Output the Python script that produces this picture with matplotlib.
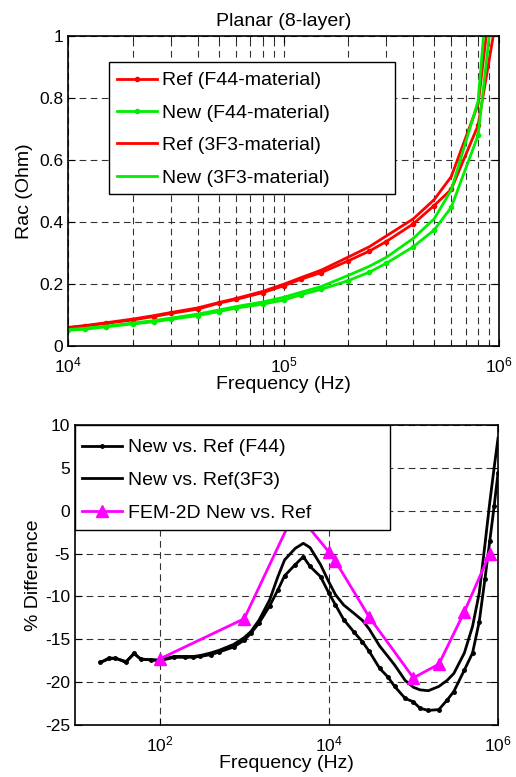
import matplotlib
matplotlib.use("Agg")
import matplotlib.pyplot as plt
from matplotlib.patches import Rectangle
from matplotlib.ticker import FixedLocator, NullLocator, FixedFormatter

plt.rcParams['font.family'] = ['Liberation Sans', 'DejaVu Sans']
plt.rcParams['mathtext.default'] = 'regular'
plt.rcParams['axes.unicode_minus'] = False

# top panel: Rac vs frequency
f_top = [1e4, 1.2e4, 1.5e4, 2e4, 2.5e4, 3e4, 4e4, 5e4, 6e4, 8e4, 1e5, 1.2e5, 1.5e5,
         2e5, 2.5e5, 3e5, 4e5, 5e5, 6e5, 8e5, 1e6]
ref_f44 = [0.059, 0.0645, 0.073, 0.084, 0.095, 0.105, 0.119, 0.138, 0.150, 0.172, 0.194,
           0.215, 0.237, 0.275, 0.306, 0.337, 0.394, 0.453, 0.505, 0.712, 1.11]
new_f44 = [0.051, 0.054, 0.062, 0.071, 0.078, 0.086, 0.098, 0.111, 0.122, 0.135, 0.148,
           0.165, 0.183, 0.211, 0.238, 0.267, 0.320, 0.374, 0.447, 0.68, 1.28]
ref_3f3 = [0.060, 0.066, 0.075, 0.087, 0.098, 0.108, 0.123, 0.140, 0.153, 0.176, 0.199,
           0.220, 0.245, 0.287, 0.320, 0.355, 0.410, 0.472, 0.546, 0.78, 1.35]
new_3f3 = [0.053, 0.057, 0.064, 0.074, 0.082, 0.090, 0.103, 0.116, 0.127, 0.142, 0.157,
           0.173, 0.192, 0.228, 0.257, 0.286, 0.347, 0.41, 0.503, 0.79, 1.6]

# bottom panel: % difference
f_diff = [20, 25, 30, 40, 50, 60, 80, 100, 150, 200, 250, 300, 400, 500, 750, 1000,
          1200, 1500, 2000, 2500, 3000, 4000, 5000, 6000, 8000,
          1e4, 1.2e4, 1.5e4, 2e4, 2.5e4, 3e4, 4e4, 5e4, 6e4, 8e4,
          1e5, 1.2e5, 1.5e5, 2e5, 2.5e5, 3e5, 4e5, 5e5, 6e5, 7e5, 8e5, 9e5, 1e6]
diff_f44 = [-17.7, -17.2, -17.2, -17.7, -16.6, -17.35, -17.4, -17.5,
            -17.1, -17.1, -17.1, -17.0, -16.8, -16.5, -15.9, -15.1,
            -14.3, -13.1, -11.1, -9.25, -7.6, -6.3, -5.36, -6.5, -7.7,
            -9.6, -11.0, -12.7, -14.2, -15.3, -16.4, -18.4, -19.4, -20.5, -21.9,
            -22.3, -23.05, -23.3, -23.2, -22.1, -21.1, -18.6, -16.6, -12.95, -8.0, -3.5, 0.5, 4.4]
diff_3f3 = [-17.7, -17.3, -17.2, -17.6, -16.7, -17.3, -17.4, -17.4,
            -17.0, -17.0, -17.0, -16.9, -16.6, -16.3, -15.6, -14.8,
            -14.1, -12.75, -10.4, -7.7, -5.75, -4.4, -3.8, -4.3, -6.3,
            -8.3, -9.8, -11.0, -12.0, -12.8, -13.8, -15.8, -17.0, -18.0, -19.8,
            -20.6, -20.9, -21.0, -20.5, -19.8, -19.0, -16.6, -13.5, -9.6, -4.0, 1.0, 5.0, 8.45]
f_fem = [100, 1000, 4000, 1e4, 1.2e4, 3e4, 1e5, 2e5, 4e5, 8e5]
diff_fem = [-17.3, -12.6, 0.0, -4.8, -5.9, -12.4, -19.5, -17.9, -11.8, -5.0]

grid_kw = dict(color='0.2', linestyle=(0, (6, 4)), linewidth=0.8)
green = '#00ee00'

fig = plt.figure(figsize=(5.16, 7.77), dpi=100)

'''top axes'''
ax1 = fig.add_axes([68/516, 1-346/777, 431/516, 310/777])
ax1.plot(f_top, ref_f44, color='red', lw=2, marker='.', ms=6, label='Ref (F44-material)')
ax1.plot(f_top, new_f44, color=green, lw=2, marker='.', ms=6, label='New (F44-material)')
ax1.plot(f_top, ref_3f3, color='red', lw=2, label='Ref (3F3-material)')
ax1.plot(f_top, new_3f3, color=green, lw=2, label='New (3F3-material)')
ax1.set_xscale('log')
ax1.set_xlim(1e4, 1e6)
ax1.set_ylim(0, 1)
ax1.set_yticks([0, 0.2, 0.4, 0.6, 0.8, 1])
ax1.set_yticklabels(['0', '0.2', '0.4', '0.6', '0.8', '1'])
ax1.grid(True, which='both', axis='x', **grid_kw)
ax1.grid(True, which='major', axis='y', **grid_kw)
ax1.set_title('Planar (8-layer)', fontsize=14, pad=7)
ax1.set_xlabel('Frequency (Hz)', fontsize=14, labelpad=0)
ax1.set_ylabel('Rac (Ohm)', fontsize=14, labelpad=4)
# matlab-style legend box, wider than its text
ax1.add_patch(Rectangle((41/431, 152/310), 286/431, 132/310, transform=ax1.transAxes,
                        facecolor='white', edgecolor='black', lw=1.0, zorder=4.9))
ax1.legend(loc='upper left', bbox_to_anchor=(48.7/431, 274.2/310), borderaxespad=0,
           borderpad=0, fontsize=14, frameon=False, handlelength=2.06,
           handletextpad=0.26, labelspacing=0.76)

'''bottom axes'''
ax2 = fig.add_axes([75/516, 1-725/777, 423/516, 300/777])
ax2.plot(f_diff, diff_f44, color='black', lw=2, marker='.', ms=5, label='New vs. Ref (F44)')
ax2.plot(f_diff, diff_3f3, color='black', lw=2, label='New vs. Ref(3F3)')
ax2.plot(f_fem, diff_fem, color='magenta', lw=2, marker='^', ms=8, label='FEM-2D New vs. Ref')
ax2.set_xscale('log')
ax2.set_xlim(10, 1e6)
ax2.set_ylim(-25, 10)
ax2.xaxis.set_major_locator(FixedLocator([1e2, 1e4, 1e6]))
ax2.xaxis.set_major_formatter(FixedFormatter(['$10^2$', '$10^4$', '$10^6$']))
ax2.xaxis.set_minor_locator(NullLocator())
ax2.set_yticks([-25, -20, -15, -10, -5, 0, 5, 10])
ax2.grid(True, which='major', **grid_kw)
ax2.set_xlabel('Frequency (Hz)', fontsize=14, labelpad=0)
ax2.set_ylabel('% Difference', fontsize=14, labelpad=2)
ax2.add_patch(Rectangle((0, 0.65), 315/423, 0.35, transform=ax2.transAxes,
                        facecolor='white', edgecolor='black', lw=1.0, zorder=4.9))
ax2.legend(loc='upper left', bbox_to_anchor=(6.7/423, 286.2/300), borderaxespad=0,
           borderpad=0, fontsize=14, frameon=False, handlelength=2.06,
           handletextpad=0.34, labelspacing=0.78)

for ax in (ax1, ax2):
    ax.tick_params(which='both', direction='in', top=True, right=True, labelsize=12.5)
    ax.tick_params(axis='x', which='major', pad=7)
    ax.tick_params(which='major', length=5)
    ax.tick_params(which='minor', length=3)
    for s in ax.spines.values():
        s.set_linewidth(1.2)
    ax.set_axisbelow(True)

plt.savefig('out.png', dpi=100)
plt.close('all')
